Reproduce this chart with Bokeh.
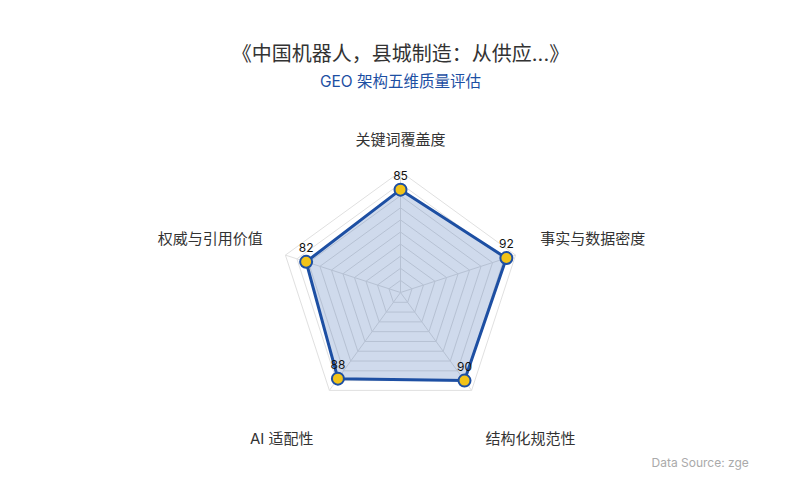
import numpy as np
from bokeh.plotting import figure
from bokeh.models import Range1d, Label, ColumnDataSource
from bokeh.core.properties import value
from bokeh.embed import file_html
from bokeh.resources import INLINE

# ---- data ----
title_text = "《中国机器人，县城制造：从供应...》"
subtitle_text = "GEO 架构五维质量评估"
source_text = "Data Source: zge"
dimensions = ["关键词覆盖度", "事实与数据密度", "结构化规范性", "AI 适配性", "权威与引用价值"]
scores = [85, 92, 90, 88, 82]
max_value = 100
ring_levels = list(range(10, 101, 10))

# ---- layout / style ----
W, H = 784, 484
CX, CY = 400, 292         # radar centre in px from top-left
R = 121.0                 # px radius for max_value
FONT = "Inter, 'Noto Sans CJK SC', 'Noto Sans', sans-serif"
BLUE = "#1d4fa3"
FILL = "#1d4fa3"
YELLOW = "#f2c318"

p = figure(width=W, height=H, output_backend="svg", toolbar_location=None,
           x_range=Range1d(-CX, W - CX), y_range=Range1d(-(H - CY), CY),
           min_border=0)
p.axis.visible = False
p.grid.visible = False
p.outline_line_color = None
p.background_fill_color = "white"
p.border_fill_color = "white"

n = len(dimensions)
angles = np.pi / 2 - np.arange(n) * 2 * np.pi / n
scale = R / max_value

# grid rings
for lvl in ring_levels:
    r = lvl * scale
    xs = list(r * np.cos(angles)) + [r * np.cos(angles[0])]
    ys = list(r * np.sin(angles)) + [r * np.sin(angles[0])]
    p.line(xs, ys, line_color="#e0e0e0", line_width=1)
# spokes
for a in angles:
    p.line([0, R * np.cos(a)], [0, R * np.sin(a)], line_color="#e0e0e0", line_width=1)

# data polygon
vx = np.array(scores) * scale * np.cos(angles)
vy = np.array(scores) * scale * np.sin(angles)
p.patch(list(vx), list(vy), fill_color=FILL, fill_alpha=0.21, line_color=None)
p.line(list(vx) + [vx[0]], list(vy) + [vy[0]], line_color=BLUE, line_width=3,
       line_join="round")
src = ColumnDataSource(dict(x=vx, y=vy, t=[str(s) for s in scores]))
p.scatter("x", "y", source=src, size=12, fill_color=YELLOW, line_color=BLUE, line_width=2)
p.text("x", "y", text="t", source=src, text_font=value(FONT), text_font_size="12px",
       text_color="#111111", text_align="center", text_baseline="bottom", y_offset=-10)

# axis name labels
label_r = 1.25 * R
aligns = ["center", "left", "left", "right", "right"]
yoffs = [-2, -7, 24, 24, -7]
xoffs = [0, -4, -4, 2, 6]
for name, a, al, yo, xo in zip(dimensions, angles, aligns, yoffs, xoffs):
    p.add_layout(Label(x=label_r * np.cos(a), y=label_r * np.sin(a), text=name,
                       text_align=al, text_baseline="middle", y_offset=-yo, x_offset=xo,
                       text_font=FONT, text_font_size="15px", text_color="#333333"))

# titles
p.add_layout(Label(x=CX, y=H - 53, x_units="screen", y_units="screen", text=title_text,
                   text_align="center", text_baseline="middle", text_font=FONT,
                   text_font_size="20px", text_color="#333333"))
p.add_layout(Label(x=CX, y=H - 81, x_units="screen", y_units="screen", text=subtitle_text,
                   text_align="center", text_baseline="middle", text_font=FONT,
                   text_font_size="15.5px", text_color=BLUE))
p.add_layout(Label(x=651, y=H - 462, x_units="screen", y_units="screen", text=source_text,
                   text_align="left", text_baseline="middle", text_font=FONT,
                   text_font_size="12px", text_color="#aaaaaa"))

open("out.html", "w").write(file_html(p, INLINE))
